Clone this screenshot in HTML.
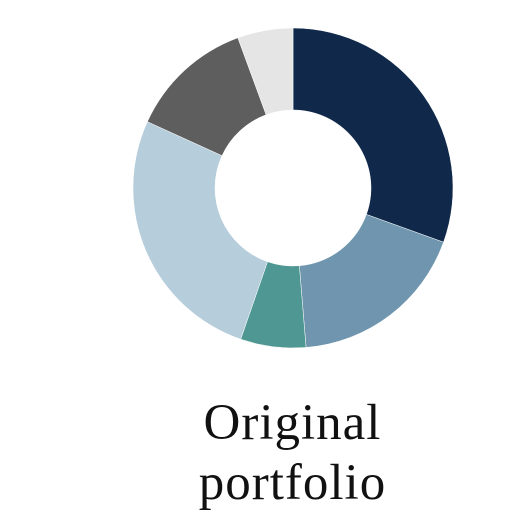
<!DOCTYPE html>
<html><head><meta charset="utf-8"><style>
html,body{margin:0;padding:0;background:#fff;width:531px;height:531px;overflow:hidden}
.t{position:absolute;left:0;width:585px;text-align:center;font-family:"Liberation Serif",serif;font-size:51px;color:#111;letter-spacing:1px}
</style></head><body>
<svg id="c" width="531" height="531" style="position:absolute;left:0;top:0"></svg>
<div class="t" style="top:394px">Original</div>
<div class="t" style="top:454px">portfolio</div>
<script>
const categories=["Segment A","Segment B","Segment C","Segment D","Segment E","Segment F"];
const values=[30.5,18.2,6.6,26.5,12.6,5.6];
const colors=["#10294a","#6f96ae","#4f9792","#b6cddb","#5e5e5e","#e5e5e5"];
const svg=document.getElementById('c');
const cx=293,cy=188,R=160,r=78;
const total=values.reduce((a,b)=>a+b,0);
let a0=0;
function pt(rad,a){return [cx+rad*Math.sin(a),cy-rad*Math.cos(a)];}
values.forEach((v,i)=>{
  const a1=a0+v/total*2*Math.PI;
  const large=(a1-a0)>Math.PI?1:0;
  const p1=pt(R,a0),p2=pt(R,a1),p3=pt(r,a1),p4=pt(r,a0);
  const d=`M${p1[0]},${p1[1]} A${R},${R} 0 ${large} 1 ${p2[0]},${p2[1]} L${p3[0]},${p3[1]} A${r},${r} 0 ${large} 0 ${p4[0]},${p4[1]} Z`;
  const p=document.createElementNS('http://www.w3.org/2000/svg','path');
  p.setAttribute('d',d);p.setAttribute('fill',colors[i]);p.setAttribute('stroke','#fff');p.setAttribute('stroke-width','0.5');
  
  
  svg.appendChild(p);
  a0=a1;
});
</script>
</body></html>
